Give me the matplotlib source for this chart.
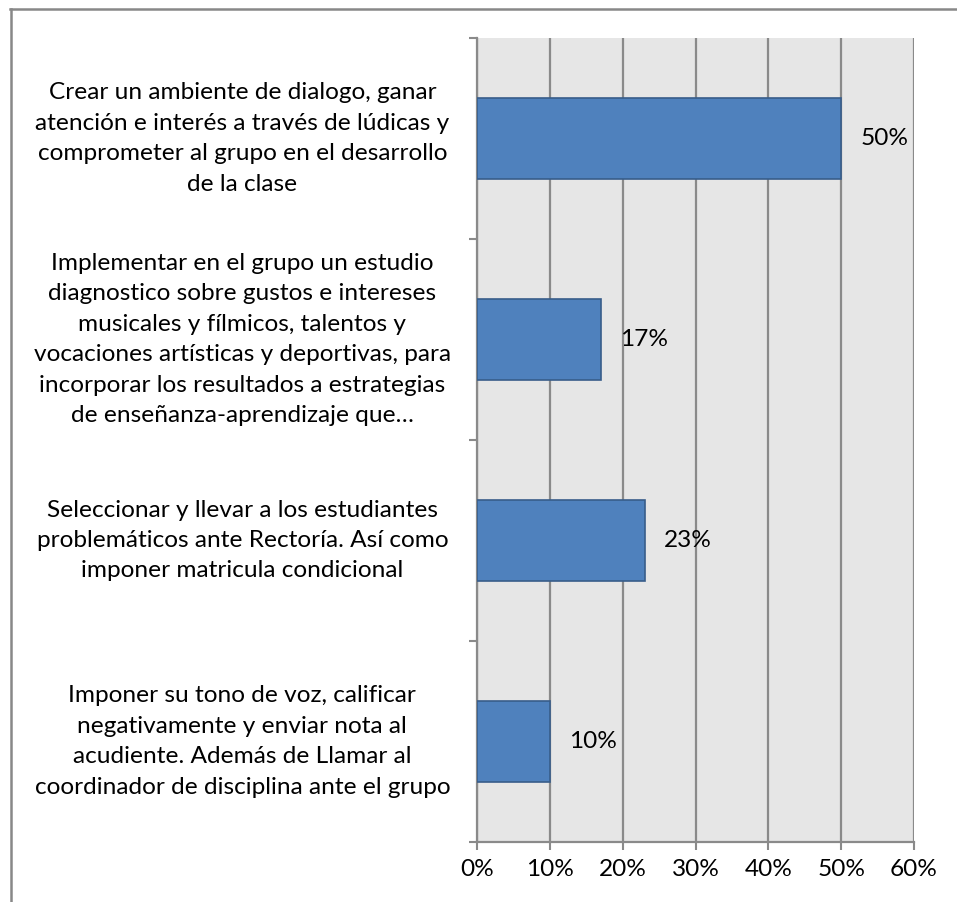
import matplotlib
matplotlib.use('Agg')
from matplotlib import pyplot as plt
from matplotlib.lines import Line2D
import matplotlib.transforms as mtransforms

plt.rcParams['font.family'] = ['Lato', 'DejaVu Sans']

categories = [
    'Crear un ambiente de dialogo, ganar\natención e interés a través de lúdicas y\ncomprometer al grupo en el desarrollo\nde la clase',
    'Implementar en el grupo un estudio\ndiagnostico sobre gustos e intereses\nmusicales y fílmicos, talentos y\nvocaciones artísticas y deportivas, para\nincorporar los resultados a estrategias\nde enseñanza-aprendizaje que…',
    'Seleccionar y llevar a los estudiantes\nproblemáticos ante Rectoría. Así como\nimponer matricula condicional',
    'Imponer su tono de voz, calificar\nnegativamente y enviar nota al\nacudiente. Además de Llamar al\ncoordinador de disciplina ante el grupo',
]
values = [0.50, 0.17, 0.23, 0.10]
value_labels = ['50%', '17%', '23%', '10%']
x_ticks = [0, 0.1, 0.2, 0.3, 0.4, 0.5, 0.6]
x_tick_labels = ['0%', '10%', '20%', '30%', '40%', '50%', '60%']

W, H = 957, 902
fig = plt.figure(figsize=(W / 100, H / 100), dpi=100)
ax = fig.add_axes([477 / W, 1 - 842 / H, 437 / W, 804 / H])

grid_col = '#8a8a8a'
fs = 17.6
ax.set_facecolor('#e6e6e6')

pos = list(range(len(values)))
ax.barh(pos, values, height=0.4, color='#4f81bd', edgecolor='#385d8a', linewidth=1.2, zorder=3)

ax.set_xlim(0, 0.6)
ax.set_ylim(3.5, -0.5)
ax.set_xticks(x_ticks)
ax.set_xticklabels(x_tick_labels, fontsize=fs)
ax.set_yticks([-0.5, 0.5, 1.5, 2.5, 3.5])
ax.set_yticklabels([])
ax.tick_params(axis='both', color=grid_col, length=6, width=1.5)
ax.tick_params(axis='x', pad=6)

ax.grid(axis='x', color=grid_col, linewidth=1.6, zorder=1)
for s in ['top', 'right']:
    ax.spines[s].set_visible(False)
for s in ['left', 'bottom']:
    ax.spines[s].set_color(grid_col)
    ax.spines[s].set_linewidth(1.6)

for p, v, lab in zip(pos, values, value_labels):
    ax.annotate(lab, (v, p), xytext=(14, 0), textcoords='offset points',
                ha='left', va='center', fontsize=fs, zorder=4)

trans = mtransforms.blended_transform_factory(ax.transAxes, ax.transData)
for p, lab in zip(pos, categories):
    ax.text(-0.537, p, lab, transform=trans, ha='center', va='center',
            fontsize=fs, linespacing=1.55)

# outer chart border (cut off at right and bottom)
fig.add_artist(Line2D([11 / W, 11 / W], [1 - 9 / H, 0], color='#888888', linewidth=1.8))
fig.add_artist(Line2D([10 / W, 1], [1 - 9 / H, 1 - 9 / H], color='#888888', linewidth=1.8))

fig.savefig('out.png', dpi=100)
